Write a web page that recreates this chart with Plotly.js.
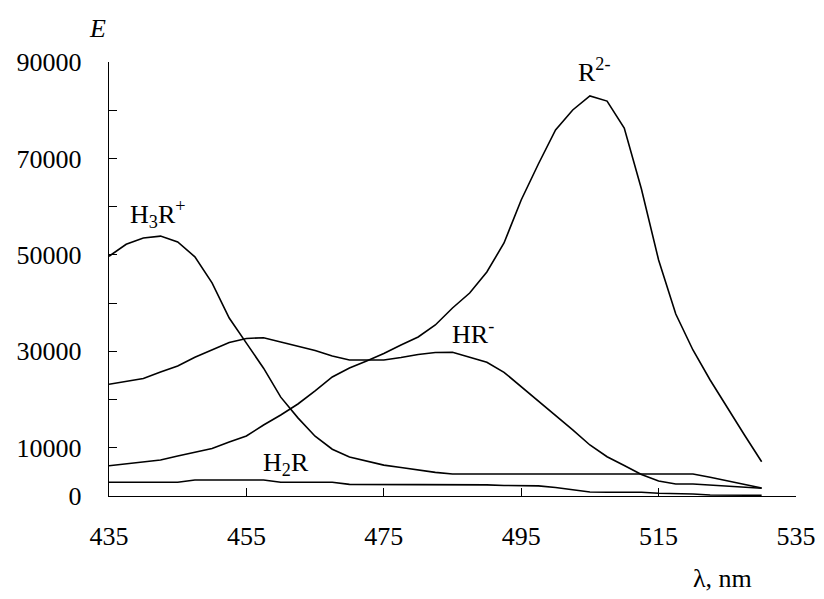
<!DOCTYPE html>
<html>
<head>
<meta charset="utf-8">
<script src="https://cdn.plot.ly/plotly-3.0.1.min.js"></script>
<style>html,body{margin:0;padding:0;background:#fff;}#chart{width:824px;height:599px;}</style>
</head>
<body>
<div id="chart"></div>
<script>
var wavelength = [435, 437.5, 440, 442.5, 445, 447.5, 450, 452.5, 455, 457.5, 460, 462.5, 465, 467.5, 470, 472.5, 475, 477.5, 480, 482.5, 485, 487.5, 490, 492.5, 495, 497.5, 500, 502.5, 505, 507.5, 510, 512.5, 515, 517.5, 520, 522.5, 525, 527.5, 530];

var H3R = [49700, 52200, 53500, 53900, 52700, 49600, 44200, 36900, 31700, 26500, 20500, 16200, 12400, 9700, 8100, 7300, 6400, 5900, 5400, 4900, 4560, 4560, 4560, 4560, 4560, 4560, 4560, 4560, 4560, 4560, 4560, 4560, 4560, 4560, 4560, 3900, 3100, 2300, 1650];

var HR = [23160, 23750, 24370, 25700, 26960, 28760, 30380, 31830, 32660, 32830, 31940, 31100, 30170, 29030, 28200, 28200, 28200, 28720, 29340, 29760, 29800, 28760, 27730, 25650, 22690, 19700, 16730, 13710, 10580, 8150, 6330, 4460, 3110, 2490, 2490, 2280, 2070, 1870, 1600];

var R2 = [6280, 6640, 7050, 7470, 8300, 9120, 9850, 11200, 12440, 14720, 16800, 19080, 21780, 24680, 26540, 28000, 29550, 31310, 32970, 35460, 38990, 42100, 46450, 52470, 61390, 68850, 75900, 80050, 82950, 81900, 76320, 63670, 48940, 37740, 30280, 24060, 18250, 12650, 7110];

var H2R = [2840, 2840, 2840, 2840, 2840, 3320, 3320, 3320, 3320, 3320, 2840, 2840, 2840, 2840, 2420, 2420, 2420, 2420, 2420, 2420, 2420, 2420, 2300, 2180, 2180, 2100, 1760, 1350, 830, 770, 770, 770, 560, 520, 410, 210, 150, 150, 150];

var xTickVals = [435, 455, 475, 495, 515, 535];
var xTickText = ["435", "455", "475", "495", "515", "535"];
var yTickVals = [0, 10000, 30000, 50000, 70000, 90000];
var yTickText = ["0", "10000", "30000", "50000", "70000", "90000"];
var yMinorTickVals = [20000, 40000, 60000, 80000];

var seriesNames = ["H3R+", "HR-", "R2-", "H2R"];
var seriesData = [H3R, HR, R2, H2R];

var labelText = ["H<sub>3</sub>R<sup>+</sup>", "HR<sup>-</sup>", "R<sup>2-</sup>", "H<sub>2</sub>R"];
var labelX = [442.0, 488.0, 505.6, 460.8];
var labelY = [58500, 34000, 88300, 6600];

var font = "Liberation Serif, Times New Roman, serif";

var traces = seriesData.map(function(d, i) {
  return {
    x: wavelength, y: d, type: "scatter", mode: "lines", name: seriesNames[i],
    line: {color: "#000", width: 1.6, shape: "linear"}, hoverinfo: "skip"
  };
});

var annotations = labelText.map(function(t, i) {
  return {x: labelX[i], y: labelY[i], xref: "x", yref: "y", text: t, showarrow: false,
    xanchor: "center", yanchor: "middle",
    font: {family: font, size: 26, color: "#000"}};
});
annotations.push({
  x: (97 - 109) / 687, y: 1 + (62 - 28) / 434, xref: "paper", yref: "paper",
  xanchor: "center", yanchor: "middle",
  text: "<i>E</i>", showarrow: false, font: {family: font, size: 26, color: "#000"}
});
annotations.push({
  x: (722 - 109) / 687, y: -(578 - 496) / 434, xref: "paper", yref: "paper",
  xanchor: "center", yanchor: "middle",
  text: "λ, nm", showarrow: false, font: {family: font, size: 26, color: "#000"}
});

var layout = {
  width: 824, height: 599,
  margin: {l: 109, r: 28, t: 62, b: 103},
  paper_bgcolor: "#fff", plot_bgcolor: "#fff",
  showlegend: false,
  font: {family: font, size: 26, color: "#000"},
  xaxis: {
    range: [435, 535], tickmode: "array", tickvals: xTickVals, ticktext: xTickText,
    ticks: "inside", ticklen: 8, tickwidth: 1, tickcolor: "#000",
    showline: true, linecolor: "#000", linewidth: 1.2, showgrid: false, zeroline: false,
    ticklabelstandoff: 17,
    tickfont: {family: font, size: 26, color: "#000"}
  },
  yaxis: {
    range: [0, 90000], tickmode: "array", tickvals: yTickVals, ticktext: yTickText,
    ticks: "inside", ticklen: 8, tickwidth: 1, tickcolor: "#000",
    showline: true, linecolor: "#000", linewidth: 1.2, showgrid: false, zeroline: false,
    ticklabelstandoff: 21,
    tickfont: {family: font, size: 26, color: "#000"},
    minor: {tickmode: "array", tickvals: yMinorTickVals, ticks: "inside", ticklen: 8, tickwidth: 1, tickcolor: "#000", showgrid: false}
  },
  annotations: annotations
};

Plotly.newPlot("chart", traces, layout, {staticPlot: true, displayModeBar: false});
</script>
</body>
</html>
